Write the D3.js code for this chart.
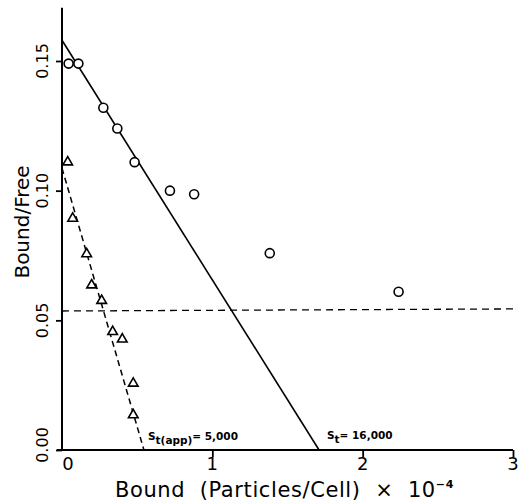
<!DOCTYPE html>
<html><head><meta charset="utf-8">
<script src="https://cdn.jsdelivr.net/npm/d3@7"></script>
<style>body{margin:0;background:#fff}</style>
</head><body>
<svg id="c" width="520" height="502"></svg>
<script>
// data (x in units of 10^4 particles/cell, y = bound/free)
const circlesX = [0.044, 0.109, 0.275, 0.368, 0.483, 0.718, 0.879, 1.382, 2.239];
const circlesY = [0.149, 0.149, 0.132, 0.124, 0.111, 0.100, 0.0986, 0.0759, 0.061];
const trianglesX = [0.038, 0.071, 0.164, 0.197, 0.264, 0.337, 0.401, 0.474, 0.474];
const trianglesY = [0.111, 0.0893, 0.0756, 0.0636, 0.0576, 0.0456, 0.0427, 0.0257, 0.0135];
const solidLine = [[0, 0.158], [1.71, 0]];
const dashedLine = [[0, 0.1087], [0.545, 0]];
const hLineY = 0.0536;
const xTicks = [0, 1, 2, 3];
const yTicks = [0, 0.05, 0.10, 0.15];
const yTickLabels = ["0.00", "0.05", "0.10", "0.15"];

const svg = d3.select("#c");
const x = d3.scaleLinear().domain([0, 3]).range([62, 513]);
const y = d3.scaleLinear().domain([0, 0.15]).range([450, 61]);
const font = "'DejaVu Sans', sans-serif";

// axes lines
svg.append("line").attr("x1", x(0)).attr("x2", x(0)).attr("y1", y(0.1705)).attr("y2", y(0))
  .attr("stroke", "#000").attr("stroke-width", 2);
svg.append("line").attr("x1", x(0) - 5).attr("x2", x(3)).attr("y1", y(0)).attr("y2", y(0))
  .attr("stroke", "#000").attr("stroke-width", 2);

// y ticks
const yAxis = d3.axisLeft(y).tickValues(yTicks).tickSize(6).tickFormat("");
const gy = svg.append("g").attr("transform", `translate(${x(0)},0)`).call(yAxis);
gy.select(".domain").remove();
gy.selectAll("line").attr("stroke-width", 1.8);
svg.selectAll(".ytl").data(yTicks).join("text")
  .attr("transform", (d) => `translate(48,${y(d) - (d === 0 ? 5 : 0)}) rotate(-90)`)
  .attr("text-anchor", "middle").attr("font-family", font).attr("font-size", 16)
  .text((d, i) => yTickLabels[i]);

// x ticks
const xAxis = d3.axisBottom(x).tickValues(xTicks.slice(1)).tickSize(7).tickFormat("");
const gx = svg.append("g").attr("transform", `translate(0,${y(0)})`).call(xAxis);
gx.select(".domain").remove();
gx.selectAll("line").attr("stroke-width", 1.8);
svg.selectAll(".xtl").data(xTicks).join("text")
  .attr("x", (d) => d === 0 ? x(d) + 6 : x(d)).attr("y", 470)
  .attr("text-anchor", "middle").attr("font-family", font).attr("font-size", 18)
  .text((d) => d);

// axis titles
svg.append("text").attr("transform", `translate(29,222) rotate(-90)`)
  .attr("text-anchor", "middle").attr("font-family", font).attr("font-size", 20)
  .text("Bound/Free");
const xt = svg.append("text").attr("x", 115).attr("y", 497)
  .attr("text-anchor", "start").attr("font-family", font).attr("font-size", 21)
  .attr("letter-spacing", 0.6)
  .attr("xml:space", "preserve").style("white-space", "pre");
xt.append("tspan").text("Bound  (Particles/Cell)  \u00d7  10");
xt.append("tspan").attr("dy", -9).attr("font-size", 11).attr("font-weight", "bold").text("\u22124");

// lines
const line = d3.line().x((d) => x(d[0])).y((d) => y(d[1]));
svg.append("path").attr("d", line(solidLine)).attr("fill", "none").attr("stroke", "#000").attr("stroke-width", 1.6);
svg.append("path").attr("d", line(dashedLine)).attr("fill", "none").attr("stroke", "#000")
  .attr("stroke-width", 1.5).attr("stroke-dasharray", "6,4");
svg.append("line").attr("x1", x(0)).attr("x2", x(3)).attr("y1", y(hLineY)).attr("y2", y(hLineY + 0.0008))
  .attr("stroke", "#000").attr("stroke-width", 1.3).attr("stroke-dasharray", "7,5");

// circles
svg.selectAll(".circ").data(circlesX).join("circle")
  .attr("cx", (d) => x(d)).attr("cy", (d, i) => y(circlesY[i])).attr("r", 4.5)
  .attr("fill", "#fff").attr("stroke", "#000").attr("stroke-width", 1.6);

// triangles
const tri = d3.symbol().type(d3.symbolTriangle).size(40);
svg.selectAll(".tri").data(trianglesX).join("path")
  .attr("d", tri).attr("transform", (d, i) => `translate(${x(d)},${y(trianglesY[i])})`)
  .attr("fill", "#fff").attr("stroke", "#000").attr("stroke-width", 1.6);

// annotations
const a1 = svg.append("text").attr("x", 148).attr("y", 440).attr("font-family", font)
  .attr("font-size", 10.5).attr("font-weight", "bold");
a1.append("tspan").text("S");
a1.append("tspan").attr("dy", 4).text("t(app)");
a1.append("tspan").attr("dy", -4).text("= 5,000");
const a2 = svg.append("text").attr("x", 327).attr("y", 439).attr("font-family", font)
  .attr("font-size", 10.5).attr("font-weight", "bold");
a2.append("tspan").text("S");
a2.append("tspan").attr("dy", 4).text("t");
a2.append("tspan").attr("dy", -4).text("= 16,000");
</script>
</body></html>
